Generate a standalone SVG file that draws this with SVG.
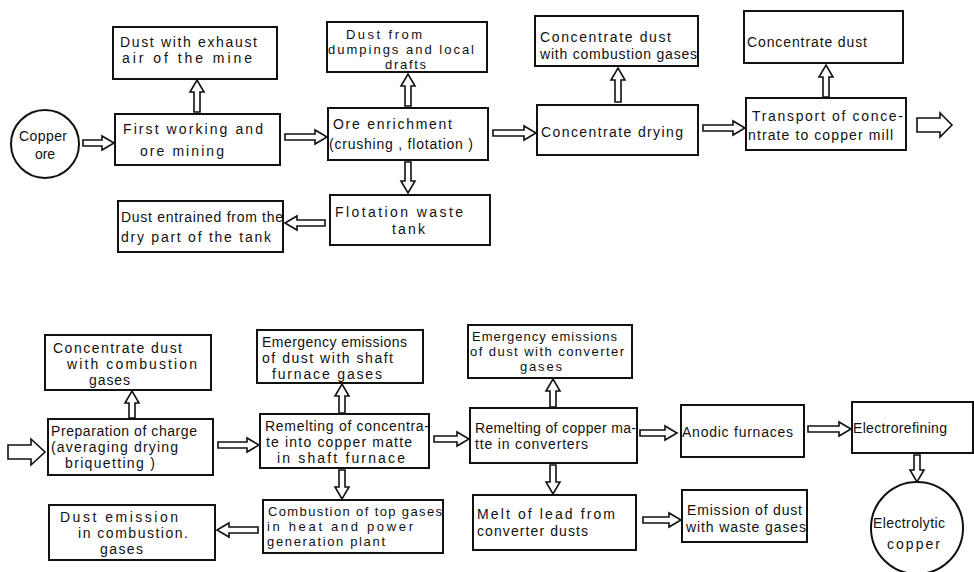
<svg xmlns="http://www.w3.org/2000/svg" width="974" height="572" viewBox="0 0 974 572">
<style>
.box{fill:#fff;stroke:#111;stroke-width:2}
.arr{fill:#fff;stroke:#111;stroke-width:1.6;stroke-linejoin:miter}
text{font-family:"Liberation Sans","DejaVu Sans",sans-serif;font-size:14px;fill:#111}
.sm{font-size:13px}
</style>
<rect x="0" y="0" width="974" height="572" fill="#fff"/>
<g id="connectors">
<path class="arr" d="M83 140 H102 V136 L114 143 L102 150 V146 H83 Z"/>
<path class="arr" d="M285 134 H315 V130 L327 137 L315 144 V140 H285 Z"/>
<path class="arr" d="M493 130 H524 V126 L536 133 L524 140 V136 H493 Z"/>
<path class="arr" d="M703 125 H733 V121 L745 128 L733 135 V131 H703 Z"/>
<path class="arr" d="M917 118 H940 V113 L952 125 L940 137 V132 H917 Z"/>
<path class="arr" d="M8 445 H31 V439 L45 452 L31 465 V459 H8 Z"/>
<path class="arr" d="M218 442 H247 V438 L259 445 L247 452 V448 H218 Z"/>
<path class="arr" d="M434 436 H457 V432 L469 439 L457 446 V442 H434 Z"/>
<path class="arr" d="M640 430 H665 V426 L677 433 L665 440 V436 H640 Z"/>
<path class="arr" d="M808 426 H839 V422 L851 429 L839 436 V432 H808 Z"/>
<path class="arr" d="M643 517 H669 V513 L681 520 L669 527 V523 H643 Z"/>
<path class="arr" d="M325 220 H297 V216 L285 223 L297 230 V226 H325 Z"/>
<path class="arr" d="M258 527 H229 V523 L217 530 L229 537 V533 H258 Z"/>
<path class="arr" d="M194 112 V92 H190 L197 80 L204 92 H200 V112 Z"/>
<path class="arr" d="M405 106 V86 H401 L408 74 L415 86 H411 V106 Z"/>
<path class="arr" d="M615 102 V80 H611 L618 68 L625 80 H621 V102 Z"/>
<path class="arr" d="M823 97 V77 H819 L826 65 L833 77 H829 V97 Z"/>
<path class="arr" d="M129 418 V403 H125 L132 391 L139 403 H135 V418 Z"/>
<path class="arr" d="M339 413 V396 H335 L342 384 L349 396 H345 V413 Z"/>
<path class="arr" d="M550 407 V391 H546 L553 379 L560 391 H556 V407 Z"/>
<path class="arr" d="M405 162 V181 H401 L408 193 L415 181 H411 V162 Z"/>
<path class="arr" d="M339 470 V487 H335 L342 499 L349 487 H345 V470 Z"/>
<path class="arr" d="M550 465 V482 H546 L553 494 L560 482 H556 V465 Z"/>
<path class="arr" d="M914 455 V470 H910 L917 482 L924 470 H920 V455 Z"/>
</g>
<g id="copper-ore"><circle class="box" cx="45" cy="144" r="34"/><text x="19" y="141" textLength="48" lengthAdjust="spacing">Copper</text><text x="45" y="159" text-anchor="middle">ore</text></g>
<g id="dust-exhaust"><rect class="box" x="113" y="27" width="164" height="52"/><text x="120" y="47" textLength="137" lengthAdjust="spacing">Dust with exhaust</text><text x="122" y="63" textLength="130" lengthAdjust="spacing">air of the mine</text></g>
<g id="first-working"><rect class="box" x="115" y="114" width="165" height="51"/><text x="123" y="134" textLength="140" lengthAdjust="spacing">First working and</text><text x="140" y="156" textLength="84" lengthAdjust="spacing">ore mining</text></g>
<g id="dust-dumpings"><rect class="box" x="327" y="22" width="160" height="50"/><text class="sm" x="346" y="39" textLength="76" lengthAdjust="spacing">Dust from</text><text class="sm" x="328" y="54" textLength="146" lengthAdjust="spacing">dumpings and local</text><text class="sm" x="385" y="69" textLength="41" lengthAdjust="spacing">drafts</text></g>
<g id="ore-enrichment"><rect class="box" x="328" y="108" width="160" height="52"/><text x="333" y="129" textLength="119" lengthAdjust="spacing">Ore enrichment</text><text x="329" y="149" textLength="144" lengthAdjust="spacing">(crushing , flotation )</text></g>
<g id="conc-dust-comb"><rect class="box" x="535" y="16" width="163" height="50"/><text x="540" y="42" textLength="131" lengthAdjust="spacing">Concentrate dust</text><text x="540" y="59" textLength="157" lengthAdjust="spacing">with combustion gases</text></g>
<g id="conc-drying"><rect class="box" x="537" y="105" width="161" height="50"/><text x="541" y="137" textLength="142" lengthAdjust="spacing">Concentrate drying</text></g>
<g id="conc-dust"><rect class="box" x="744" y="11" width="159" height="52"/><text x="747" y="47" textLength="120" lengthAdjust="spacing">Concentrate dust</text></g>
<g id="transport"><rect class="box" x="746" y="98" width="160" height="52"/><text x="752" y="121" textLength="151" lengthAdjust="spacing">Transport of conce-</text><text x="748" y="140" textLength="145" lengthAdjust="spacing">ntrate to copper mill</text></g>
<g id="dust-entrained"><rect class="box" x="118" y="201" width="165" height="51"/><text x="121" y="222" textLength="162" lengthAdjust="spacing">Dust entrained from the</text><text x="121" y="242" textLength="150" lengthAdjust="spacing">dry part of the  tank</text></g>
<g id="flotation"><rect class="box" x="330" y="195" width="160" height="50"/><text x="335" y="217" textLength="128" lengthAdjust="spacing">Flotation waste</text><text x="392" y="234" textLength="33" lengthAdjust="spacing">tank</text></g>
<g id="conc-dust-comb-2"><rect class="box" x="45" y="335" width="166" height="55"/><text x="53" y="353" textLength="129" lengthAdjust="spacing">Concentrate dust</text><text x="67" y="369" textLength="130" lengthAdjust="spacing">with combustion</text><text x="89" y="385" textLength="41" lengthAdjust="spacing">gases</text></g>
<g id="preparation"><rect class="box" x="48" y="419" width="165" height="56"/><text x="51" y="436" textLength="146" lengthAdjust="spacing">Preparation of charge</text><text x="51" y="452" textLength="127" lengthAdjust="spacing">(averaging drying</text><text x="65" y="468" textLength="90" lengthAdjust="spacing">briquetting )</text></g>
<g id="dust-emission"><rect class="box" x="49" y="505" width="166" height="55"/><text x="60" y="522" textLength="118" lengthAdjust="spacing">Dust   emission</text><text x="78" y="538" textLength="110" lengthAdjust="spacing">in combustion.</text><text x="100" y="554" textLength="43" lengthAdjust="spacing">gases</text></g>
<g id="emergency-shaft"><rect class="box" x="257" y="330" width="166" height="53"/><text x="262" y="347" textLength="145" lengthAdjust="spacing">Emergency emissions</text><text x="262" y="363" textLength="131" lengthAdjust="spacing">of dust with shaft</text><text x="272" y="379" textLength="110" lengthAdjust="spacing">furnace gases</text></g>
<g id="remelting-concentrate"><rect class="box" x="260" y="414" width="169" height="54"/><text x="265" y="431" textLength="164" lengthAdjust="spacing">Remelting of concentra-</text><text x="266" y="447" textLength="146" lengthAdjust="spacing">te into copper matte</text><text x="277" y="463" textLength="128" lengthAdjust="spacing">in shaft furnace</text></g>
<g id="combustion"><rect class="box" x="263" y="500" width="180" height="53"/><text class="sm" x="268" y="516" textLength="174" lengthAdjust="spacing">Combustion of top gases</text><text class="sm" x="267" y="531" textLength="146" lengthAdjust="spacing">in heat and power</text><text class="sm" x="267" y="546" textLength="118" lengthAdjust="spacing">generation plant</text></g>
<g id="emergency-converter"><rect class="box" x="468" y="325" width="164" height="53"/><text class="sm" x="472" y="341" textLength="145" lengthAdjust="spacing">Emergency emissions</text><text class="sm" x="470" y="356" textLength="154" lengthAdjust="spacing">of dust with converter</text><text class="sm" x="520" y="371" textLength="42" lengthAdjust="spacing">gases</text></g>
<g id="remelting-matte"><rect class="box" x="470" y="408" width="167" height="55"/><text x="475" y="433" textLength="161" lengthAdjust="spacing">Remelting of copper ma-</text><text x="475" y="449" textLength="113" lengthAdjust="spacing">tte in converters</text></g>
<g id="melt-lead"><rect class="box" x="473" y="495" width="163" height="55"/><text x="477" y="519" textLength="138" lengthAdjust="spacing">Melt of lead  from</text><text x="477" y="536" textLength="111" lengthAdjust="spacing">converter dusts</text></g>
<g id="anodic"><rect class="box" x="681" y="405" width="123" height="52"/><text x="682" y="437" textLength="111" lengthAdjust="spacing">Anodic furnaces</text></g>
<g id="electrorefining"><rect class="box" x="852" y="402" width="121" height="51"/><text x="853" y="433" textLength="94" lengthAdjust="spacing">Electrorefining</text></g>
<g id="emission-waste"><rect class="box" x="682" y="490" width="125" height="52"/><text x="687" y="515" textLength="115" lengthAdjust="spacing">Emission of dust</text><text x="686" y="532" textLength="120" lengthAdjust="spacing">with waste gases</text></g>
<g id="electrolytic-copper"><circle class="box" cx="917" cy="528" r="46"/><text x="873" y="528" textLength="72" lengthAdjust="spacing">Electrolytic</text><text x="887" y="549" textLength="53" lengthAdjust="spacing">copper</text></g>
</svg>
